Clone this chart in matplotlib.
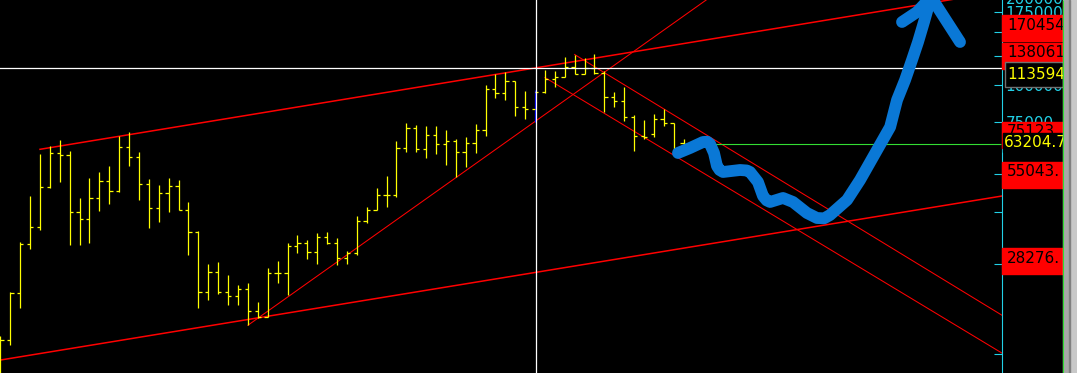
import numpy as np
import matplotlib.pyplot as plt
from matplotlib.patches import Rectangle
from matplotlib.ticker import FixedLocator, NullLocator

# --- Bars ---
opens = [11480, 13930, 20010, 29200, 33300, 45340, 58950, 58050, 37390, 35420,
         41660, 47490, 43970, 61740, 57160, 46400, 38560, 43300, 45690, 37970,
         32040, 20170, 23530, 20170, 19550, 20640, 17420, 16630, 23350, 23350,
         28760, 29430, 27460, 30830, 29430, 26220, 27250, 34880, 37970, 42630,
         42630, 61270, 71490, 60800, 67730, 63190, 64670, 59410, 63680, 70400,
         96590, 93660, 102740, 84060, 82770, 94380, 104340, 105970, 114460, 108450,
         113580, 109290, 90810, 88050, 77820, 67210, 68260, 76630, 74300, 63680]
highs = [14360, 20170, 29660, 42300, 58500, 62220, 65170, 59870, 41660, 48600,
         50910, 53320, 67210, 69320, 59410, 48230, 46050, 48600, 47860, 40390,
         32290, 25030, 25420, 22990, 21280, 21610, 18670, 24270, 25620, 29430,
         31310, 30120, 31800, 32040, 30590, 27680, 36250, 38860, 44990, 49360,
         64670, 74300, 73160, 72600, 72600, 70400, 65670, 66700, 73730, 99620,
         108450, 110140, 102740, 95110, 95850, 111850, 110990, 123640, 125570, 122690,
         126540, 110990, 94380, 98090, 79030, 76040, 79640, 82770, 74300, 65670]
lows = [10550, 13400, 17820, 28100, 32540, 44990, 47130, 28980, 28980, 29430,
        37680, 39770, 43630, 53320, 41020, 33040, 34610, 37390, 37970, 26830,
        17820, 18960, 19860, 18240, 18240, 15630, 16500, 16630, 21610, 19700,
        27250, 26020, 25030, 29200, 24840, 25030, 26830, 34350, 37970, 38860,
        41980, 59410, 59410, 56720, 58500, 53740, 48980, 52910, 58950, 67210,
        90110, 88730, 78420, 76630, 74870, 93660, 98090, 105970, 108450, 108450,
        108450, 80880, 84060, 75450, 59870, 65670, 66700, 72600, 58950, 62700]
closes = [13930, 20010, 29200, 33300, 45340, 58950, 58050, 37390, 35420, 41660,
          47490, 43970, 61740, 57160, 46400, 38560, 43300, 45690, 37970, 32040,
          20170, 23530, 20170, 19550, 20640, 17420, 16630, 23350, 23350, 28760,
          29430, 27460, 30830, 29430, 26220, 27250, 34880, 37970, 42630, 42630,
          61270, 71490, 60800, 67730, 63190, 64670, 59410, 63680, 70400, 96590,
          93660, 102740, 84060, 82770, 94380, 104340, 105970, 114460, 108450, 113580,
          109290, 90810, 88050, 77820, 67210, 66700, 76630, 74300, 58950, 63204.7]
cursor_bar = 54          # bar under the crosshair (drawn blue)
cursor_price = 113594
last_price = 63204.7

# --- Trend lines: two anchor points (bar, price) and the bar they start from ---
trend_b0 = [4, 0, 25, 58, 55]
trend_p0 = [60650, 11930, 15600, 126050, 105560]
trend_b1 = [51, 50, 54, 68, 68]
trend_p1 = [109400, 22300, 75170, 79090, 58000]
trend_start = [4, -2, 25, 58, 55]
trend_lw = [1.1, 1.1, 0.75, 0.75, 0.75]

# --- Price labels on the scale ---
label_prices = [170454, 138061, 75123, 55043, 28276]
label_texts = ['170454', '138061', '75123.', '55043.', '28276.']
tick_prices = [175000, 150000, 125000, 100000, 75000, 50000, 37500, 25000, 12500]
tick_texts = ['175000', '', '', '100000', '75000', '', '', '', '']

# --- Hand-drawn blue arrow (bar, price) ---
stroke_bars = [68.44, 69.66, 70.97, 71.4, 71.68, 72.08, 72.38, 72.65, 72.99, 74.71,
               75.4, 75.72, 76.52, 77.03, 77.4, 77.74, 79.05, 80.06, 81.47, 82.48,
               83.2, 83.8, 85.52, 86.83, 88.55, 89.87, 90.57, 91.38, 92.08, 92.69,
               93.29, 94.0]
stroke_prices = [58950, 61270, 64170, 64300, 63190, 58950, 53320, 51700, 50910, 51700,
                 51500, 50910, 47130, 42300, 40900, 40390, 41660, 40390, 37100, 35700,
                 35600, 36530, 41020, 47860, 60330, 72040, 88730, 103540, 120820, 138820,
                 161980, 196460]
barb_bars = [91.07, 92.59, 94.0, 96.93]
barb_prices = [161980, 174980, 196460, 138820]

CYAN = '#22d0e6'
plt.rcParams['font.family'] = ['DejaVu Sans']

fig = plt.figure(figsize=(10.77, 3.73), dpi=100, facecolor='black')
ax = fig.add_axes([0, 0, 1001.5 / 1077, 1])
ax.set_facecolor('black')
ax.set_yscale('log')
ax.set_xlim(-0.04, 101.12)
ax.set_ylim(10794, 191960)

idx = np.arange(len(opens))

def trend(b0, p0, b1, p1, xs):
    k = (np.log(p1) - np.log(p0)) / (b1 - b0)
    return np.exp(np.log(p0) + k * (np.asarray(xs, float) - b0))

for b0, p0, b1, p1, s, lw in zip(trend_b0, trend_p0, trend_b1, trend_p1, trend_start, trend_lw):
    xs = [s, 120]
    ax.plot(xs, trend(b0, p0, b1, p1, xs), color='#ff0000', lw=lw, zorder=2)

bar_colors = ['#0000ff' if i == cursor_bar else '#ffff00' for i in idx]
ax.vlines(idx, lows, highs, colors=bar_colors, lw=0.9, zorder=3)
ax.hlines(opens, idx - 0.33, idx, colors='#ffff00', lw=0.9, zorder=3)
ax.hlines(closes, idx, idx + 0.33, colors='#ffff00', lw=0.9, zorder=3)

ax.hlines(last_price, idx[-1] + 0.3, 101.12, colors='#33dd33', lw=0.8, zorder=2)
ax.axhline(cursor_price, color='white', lw=0.9, zorder=4)
ax.axvline(cursor_bar + 0.07, color='white', lw=0.9, zorder=4)

ax.plot(stroke_bars, stroke_prices, color='#0a78d6', lw=8.5, solid_capstyle='round',
        solid_joinstyle='round', zorder=6)
ax.plot(barb_bars, barb_prices, color='#0a78d6', lw=8.5, solid_capstyle='round',
        solid_joinstyle='round', zorder=6)

for side in ['top', 'bottom', 'left']:
    ax.spines[side].set_visible(False)
ax.spines['right'].set_color(CYAN)
ax.spines['right'].set_linewidth(0.8)
ax.set_xticks([])
ax.yaxis.tick_right()
ax.yaxis.set_major_locator(FixedLocator(tick_prices))
ax.yaxis.set_minor_locator(NullLocator())
ax.set_yticklabels(tick_texts)
ax.tick_params(axis='y', direction='in', length=6, width=0.8, color=CYAN,
               labelcolor=CYAN, labelsize=11, pad=3)
ax.annotate('200000', xy=(1, 200000), xycoords=('axes fraction', 'data'),
            xytext=(3, -3.3), textcoords='offset points', va='center', ha='left',
            color=CYAN, fontsize=11, annotation_clip=False)

# overlay in screen pixels (y downwards) for the price boxes
ov = fig.add_axes([0, 0, 1, 1])
ov.set_xlim(0, 1077)
ov.set_ylim(373, 0)
ov.axis('off')

def ypix(price):
    return 373 - ax.transData.transform((0, price))[1]

for price, txt in zip(label_prices, label_texts):
    y = ypix(price)
    ov.add_patch(Rectangle((1002, y), 61, 26, color='#ff0000', zorder=3))
    ov.text(1007, y + 2.5, txt, color='black', fontsize=11, va='top', ha='left', zorder=3)

y = ypix(cursor_price)
ov.add_patch(Rectangle((1005, y - 6), 58, 25, facecolor='black', edgecolor='#707070',
                       lw=1, zorder=4))
ov.text(1007, y - 1, f'{cursor_price}', color='#ffff00', fontsize=11, va='top',
        ha='left', zorder=4)
y = ypix(last_price)
ov.add_patch(Rectangle((1003, y - 11), 63, 19, color='black', zorder=5))
ov.text(1004, y - 1.5, f'{last_price}', color='#ffff00', fontsize=11, va='center',
        ha='left', zorder=5)

# right-hand scroll panel
ov.add_patch(Rectangle((1062.5, 0), 14.5, 373, color='#c8c8c8', zorder=10))
ov.add_patch(Rectangle((1064, 0), 5, 373, color='#a8a8a8', zorder=11))
ov.add_patch(Rectangle((1069, 0), 1, 373, color='#808080', zorder=11))
ov.vlines(1063, 0, 373, colors='#33dd33', lw=0.8, zorder=12)

fig.savefig('out.png', dpi=100, facecolor='black')
